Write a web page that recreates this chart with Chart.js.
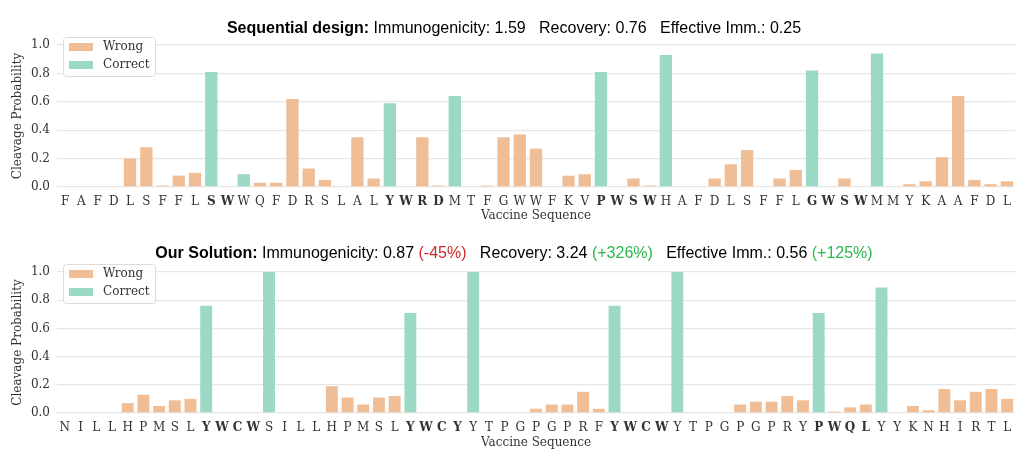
<!DOCTYPE html>
<html>
<head>
<meta charset="utf-8">
<script src="https://cdn.jsdelivr.net/npm/chart.js@4.4.0/dist/chart.umd.min.js"></script>
<style>
  body { margin: 0; background: #fff; width: 1028px; height: 472px; overflow: hidden; }
  .panel { position: absolute; left: 0; width: 1028px; height: 236px; }
</style>
</head>
<body>
<div class="panel" style="top:0"><canvas id="seqChart"></canvas></div>
<div class="panel" style="top:236px"><canvas id="oursChart"></canvas></div>
<script>
// --- data ---
const seqLabels = 'FAFDLSFFLSWWQFDRSLALYWRDMTFGWWFKVPWSWHAFDLSFFLGWSWMMYKAAFDL'.split('');
const seqValues = [0, 0, 0, 0, 0.20, 0.28, 0.01, 0.08, 0.10, 0.81,
  0, 0.09, 0.03, 0.03, 0.62, 0.13, 0.05, 0, 0.35, 0.06,
  0.59, 0, 0.35, 0.01, 0.64, 0, 0.01, 0.35, 0.37, 0.27,
  0, 0.08, 0.09, 0.81, 0, 0.06, 0.01, 0.93, 0, 0,
  0.06, 0.16, 0.26, 0, 0.06, 0.12, 0.82, 0, 0.06, 0,
  0.94, 0, 0.02, 0.04, 0.21, 0.64, 0.05, 0.02, 0.04];
const seqCorrect = [9, 11, 20, 24, 33, 37, 46, 50];
const seqBold = [9, 10, 20, 21, 22, 23, 33, 34, 35, 36, 46, 47, 48, 49];

const oursLabels = 'NILLHPMSLYWCWSILLHPMSLYWCYYTPGPGPRFYWCWYTPGPGPRYPWQLYYKNHIRTL'.split('');
const oursValues = [0, 0, 0, 0, 0.07, 0.13, 0.05, 0.09, 0.10, 0.76,
  0, 0, 0, 1.0, 0, 0, 0, 0.19, 0.11, 0.06,
  0.11, 0.12, 0.71, 0, 0, 0, 1.0, 0, 0, 0,
  0.03, 0.06, 0.06, 0.15, 0.03, 0.76, 0, 0, 0, 1.0,
  0, 0, 0, 0.06, 0.08, 0.08, 0.12, 0.09, 0.71, 0.01,
  0.04, 0.06, 0.89, 0, 0.05, 0.02, 0.17, 0.09, 0.15, 0.17, 0.10];
const oursCorrect = [9, 13, 22, 26, 35, 39, 48, 52];
const oursBold = [9, 10, 11, 12, 22, 23, 24, 25, 35, 36, 37, 38, 48, 49, 50, 51];

const yTicks = [0, 0.2, 0.4, 0.6, 0.8, 1.0];

const WRONG = '#f0be96';
const CORRECT = '#9bd9c5';
const SERIF = '"DejaVu Serif", serif';
const SANS = '"Liberation Sans", Arial, sans-serif';

// title pieces: [text, bold, colour]
const seqTitle = [
  ['Sequential design:', true, '#000'],
  [' Immunogenicity: 1.59   Recovery: 0.76   Effective Imm.: 0.25', false, '#000']
];
const oursTitle = [
  ['Our Solution:', true, '#000'],
  [' Immunogenicity: 0.87 ', false, '#000'],
  ['(-45%)', false, '#d62728'],
  ['   Recovery: 3.24 ', false, '#000'],
  ['(+326%)', false, '#2db84d'],
  ['   Effective Imm.: 0.56 ', false, '#000'],
  ['(+125%)', false, '#2db84d']
];

// draws the mixed-style title and the boxed legend
const panelDecor = {
  id: 'panelDecor',
  afterDraw(chart, args, opts) {
    const ctx = chart.ctx;
    const area = chart.chartArea;
    ctx.save();

    // title
    ctx.textBaseline = 'middle';
    let total = 0;
    opts.title.forEach(p => {
      ctx.font = (p[1] ? 'bold ' : '') + '16px ' + SANS;
      total += ctx.measureText(p[0]).width;
    });
    let x = 514 - total / 2;
    opts.title.forEach(p => {
      ctx.font = (p[1] ? 'bold ' : '') + '16px ' + SANS;
      ctx.fillStyle = p[2];
      ctx.textAlign = 'left';
      ctx.fillText(p[0], x, opts.titleY);
      x += ctx.measureText(p[0]).width;
    });

    // legend box
    const bx = 63, by = area.top - 8, bw = 92, bh = 39;
    ctx.beginPath();
    ctx.roundRect(bx + 0.5, by + 0.5, bw, bh, 3);
    ctx.fillStyle = 'rgba(255,255,255,0.85)';
    ctx.fill();
    ctx.strokeStyle = '#dcdcdc';
    ctx.lineWidth = 1;
    ctx.stroke();
    ctx.font = '12px ' + SERIF;
    chart.data.datasets.forEach((ds, i) => {
      const cy = area.top + 2 + i * 18;
      ctx.fillStyle = ds.backgroundColor;
      ctx.fillRect(69, cy - 4, 24, 8);
      ctx.fillStyle = '#333';
      ctx.fillText(ds.label, 103, cy);
    });
    ctx.restore();
  }
};

function makeChart(id, labels, values, correct, bold, title, layout) {
  const wrongData = values.map((v, i) => correct.includes(i) ? null : v);
  const correctData = values.map((v, i) => correct.includes(i) ? v : null);

  return new Chart(document.getElementById(id), {
    type: 'bar',
    data: {
      labels: labels,
      datasets: [
        { label: 'Wrong', data: wrongData, backgroundColor: WRONG },
        { label: 'Correct', data: correctData, backgroundColor: CORRECT }
      ]
    },
    options: {
      responsive: true,
      maintainAspectRatio: false,
      animation: false,
      layout: { padding: { left: 11, right: 13, top: layout.top, bottom: layout.bottom } },
      datasets: { bar: { categoryPercentage: 1, barPercentage: 0.76, borderWidth: 0 } },
      scales: {
        x: {
          stacked: true,
          grid: { display: false },
          border: { display: false },
          ticks: {
            color: '#333',
            padding: 0,
            autoSkip: false,
            maxRotation: 0,
            font: c => ({ family: SERIF, size: 12, weight: bold.includes(c.index) ? 'bold' : 'normal' })
          },
          title: {
            display: true, text: 'Vaccine Sequence', color: '#333', padding: 0,
            font: { family: SERIF, size: 12 }
          },
          afterFit: s => { s.height = layout.xHeight; }
        },
        y: {
          stacked: true,
          min: 0,
          max: 1,
          afterBuildTicks: s => { s.ticks = yTicks.map(v => ({ value: v })); },
          grid: { color: '#e6e6e6', lineWidth: 1.3, drawTicks: false },
          border: { display: false },
          ticks: {
            color: '#333',
            padding: 7,
            font: { family: SERIF, size: 12 },
            callback: v => v.toFixed(1)
          },
          title: {
            display: true, text: 'Cleavage Probability', color: '#333', padding: 0,
            font: { family: SERIF, size: 12 }
          },
          afterFit: s => { s.width = 46; }
        }
      },
      plugins: {
        legend: { display: false },
        tooltip: { enabled: false },
        panelDecor: { title: title, titleY: layout.titleY }
      }
    },
    plugins: [panelDecor]
  });
}

makeChart('seqChart', seqLabels, seqValues, seqCorrect, seqBold, seqTitle,
  { top: 45, bottom: 13, xHeight: 36, titleY: 28.5 });
makeChart('oursChart', oursLabels, oursValues, oursCorrect, oursBold, oursTitle,
  { top: 36, bottom: 22, xHeight: 37, titleY: 18 });
</script>
</body>
</html>
